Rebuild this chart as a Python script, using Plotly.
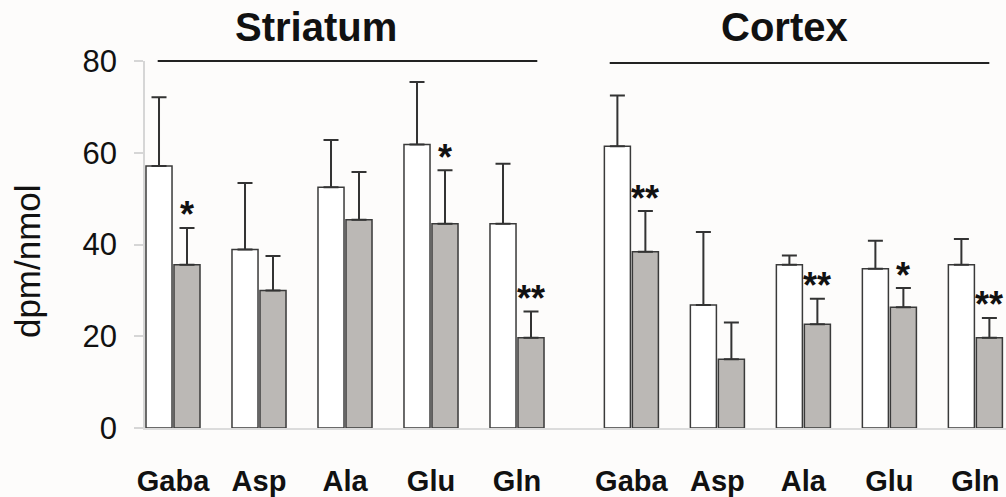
import plotly.graph_objects as go

# ---- data ----
amino_acids = ["Gaba", "Asp", "Ala", "Glu", "Gln"]
regions = ["Striatum", "Cortex"]

control_striatum = [57.1, 38.9, 52.5, 61.8, 44.5]
control_striatum_sd = [15.0, 14.5, 10.3, 13.6, 13.1]
treated_striatum = [35.6, 30.0, 45.4, 44.5, 19.7]
treated_striatum_sd = [8.0, 7.5, 10.4, 11.7, 5.7]

control_cortex = [61.4, 26.8, 35.6, 34.7, 35.6]
control_cortex_sd = [11.1, 15.9, 2.0, 6.1, 5.6]
treated_cortex = [38.4, 15.0, 22.6, 26.3, 19.7]
treated_cortex_sd = [8.9, 8.0, 5.6, 4.2, 4.3]

sig_striatum = ["*", "", "", "*", "**"]
sig_cortex = ["**", "", "**", "*", "**"]

y_ticks = [0, 20, 40, 60, 80]

# ---- layout helpers ----
REGION_OFFSET = 5.33
n = len(amino_acids)
x_str = [i for i in range(n)]
x_cor = [i + REGION_OFFSET for i in range(n)]
x_all = x_str + x_cor

control = control_striatum + control_cortex
control_sd = control_striatum_sd + control_cortex_sd
treated = treated_striatum + treated_cortex
treated_sd = treated_striatum_sd + treated_cortex_sd
sigs = sig_striatum + sig_cortex

FONT = "Arial, Liberation Sans, sans-serif"
EDGE = "#3a3a3a"

fig = go.Figure()
fig.add_trace(go.Bar(
    x=x_all, y=control, name="control",
    marker=dict(color="white", line=dict(color=EDGE, width=1.5)),
    error_y=dict(type="data", symmetric=False, array=control_sd,
                 arrayminus=[0] * len(control), color="#333", thickness=2, width=7.5),
))
fig.add_trace(go.Bar(
    x=x_all, y=treated, name="treated",
    marker=dict(color="#bbb8b5", line=dict(color=EDGE, width=1.5)),
    error_y=dict(type="data", symmetric=False, array=treated_sd,
                 arrayminus=[0] * len(treated), color="#333", thickness=2, width=7.5),
))

# significance stars above treated bars
annotations = []
bar_shift = 0.163
for xi, v, sd, s in zip(x_all, treated, treated_sd, sigs):
    if s:
        annotations.append(dict(
            x=xi + bar_shift, y=v + sd, xref="x", yref="y", text="<b>%s</b>" % s,
            showarrow=False, yanchor="middle", yshift=13,
            font=dict(family=FONT, size=36, color="#111"),
        ))

# region titles and lines
title_pos = [1.663, REGION_OFFSET + 1.78]
line_ext = [(-0.178, 4.236, 1.0), (REGION_OFFSET - 0.252, REGION_OFFSET + 4.162, 0.9945)]
for name, tx, (x0, x1, ly) in zip(regions, title_pos, line_ext):
    annotations.append(dict(
        x=tx, y=1.0926, xref="x", yref="paper", text="<b>%s</b>" % name,
        showarrow=False, yanchor="middle",
        font=dict(family=FONT, size=40, color="#111"),
    ))
    fig.add_shape(type="line", xref="x", yref="paper", x0=x0, x1=x1, y0=ly, y1=ly,
                  line=dict(color="#222", width=2))

annotations.append(dict(
    x=-0.137, y=0.455, xref="paper", yref="paper", text="dpm/nmol",
    textangle=-90, showarrow=False, xanchor="center", yanchor="middle",
    font=dict(family=FONT, size=35, color="#111"),
))

fig.update_layout(
    width=1006, height=497,
    margin=dict(l=145, r=0, t=61, b=69),
    paper_bgcolor="#fdfcfb", plot_bgcolor="#fdfcfb",
    barmode="group", bargap=0.349, bargroupgap=0.07,
    showlegend=False,
    annotations=annotations,
    xaxis=dict(
        range=[-0.3256, 9.686],
        tickmode="array", tickvals=x_all,
        ticktext=["<b>%s</b>" % a for a in amino_acids] * 2,
        tickfont=dict(family=FONT, size=29, color="#111"),
        showline=True, linecolor="#dcdcdc", linewidth=1.5,
        ticks="", showgrid=False, zeroline=False,
        ticklabelstandoff=26,
    ),
    yaxis=dict(
        range=[0, 80], tickvals=y_ticks,
        tickfont=dict(family=FONT, size=31, color="#111"),
        showline=True, linecolor="#d6d6d6", linewidth=1.5,
        ticks="outside", ticklen=9, tickcolor="#d6d6d6", tickwidth=1.5,
        showgrid=False, zeroline=False,
        ticklabelstandoff=11,
    ),
)

fig.write_html(
    "out.html",
    config={"displayModeBar": False},
    post_script="document.body.style.margin='0';document.body.style.overflow='hidden';",
)
